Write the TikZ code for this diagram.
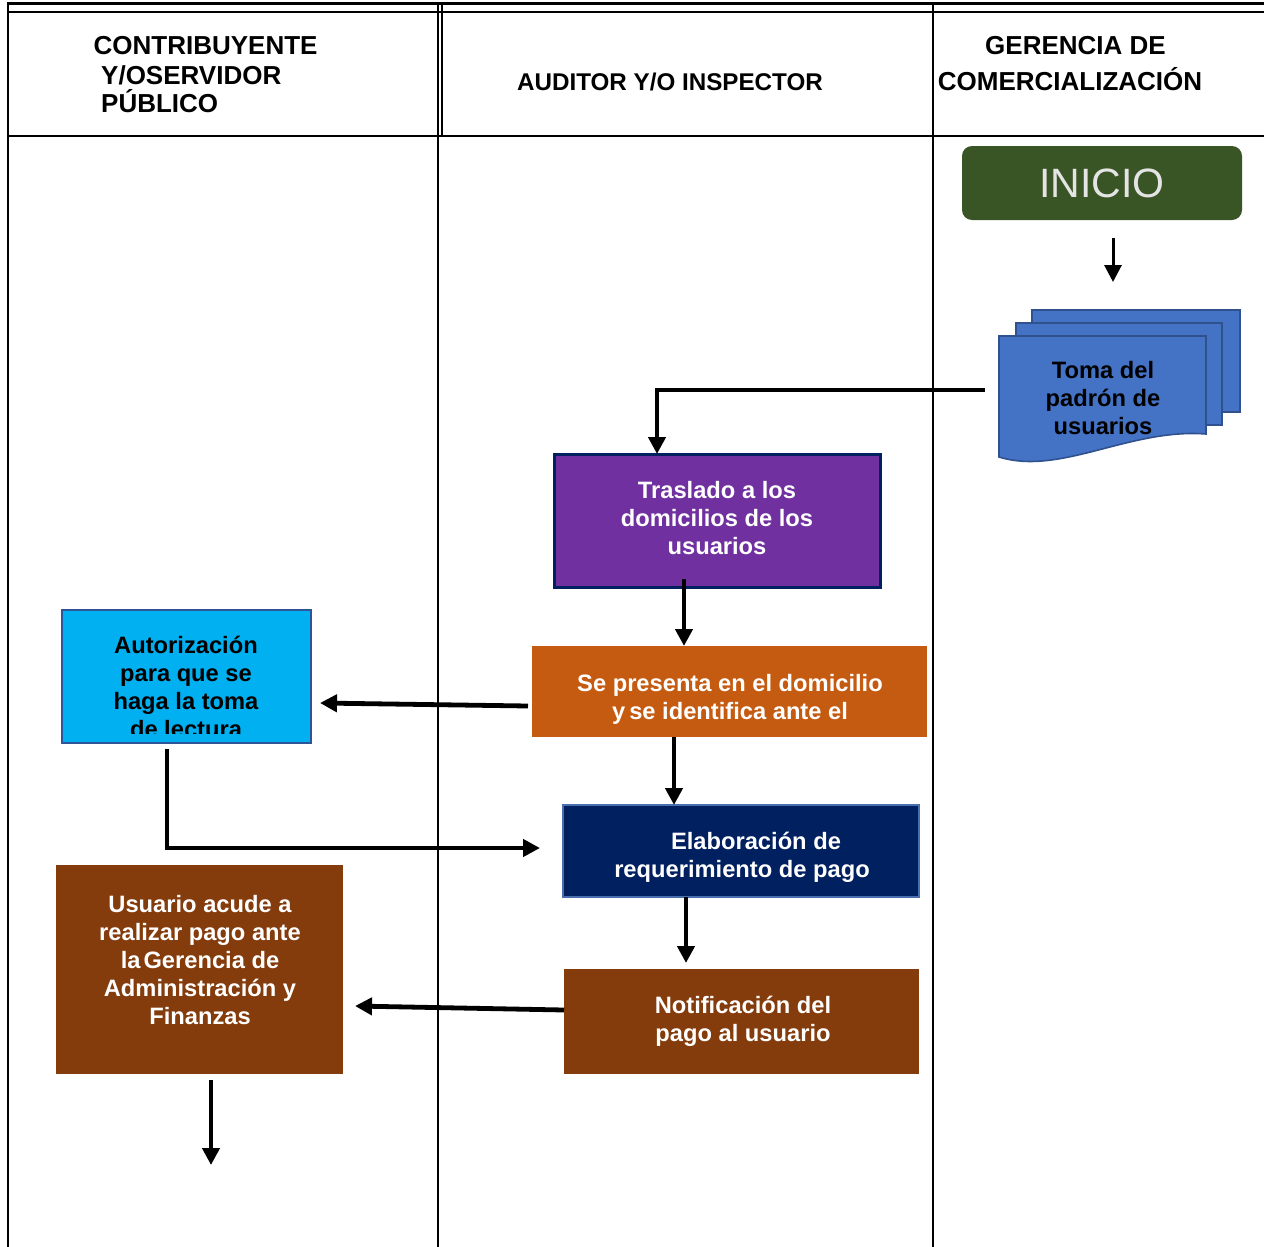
\documentclass[tikz,border=0pt]{standalone}
\usepackage{fontspec}
\setmainfont{Liberation Sans}
\usetikzlibrary{arrows.meta}

\definecolor{inicioGreen}{HTML}{3A5525}
\definecolor{inicioText}{HTML}{E4E4E4}
\definecolor{docBlue}{HTML}{4472C4}
\definecolor{docEdge}{HTML}{2F528F}
\definecolor{purpleBox}{HTML}{7030A0}
\definecolor{navy}{HTML}{002060}
\definecolor{orangeBox}{HTML}{C55A11}
\definecolor{cyanBox}{HTML}{00B0F0}
\definecolor{cyanEdge}{HTML}{2F5597}
\definecolor{elabEdge}{HTML}{4A6FAE}
\definecolor{brownBox}{HTML}{843C0C}

\begin{document}
\begin{tikzpicture}[x=1pt,y=-1pt,
  tbl/.style={line width=2.4pt,black},
  hdr/.style={font=\fontsize{26}{29}\selectfont\bfseries,inner sep=0pt},
  box/.style={rectangle,inner sep=0pt,outer sep=0pt},
  txt/.style={align=center,inner sep=0pt,font=\fontsize{23.7}{28}\selectfont\bfseries,text=white},
  conn/.style={line width=4.8pt,-{Triangle[width=17pt,length=17pt]}}]

\useasboundingbox (0,0) rectangle (1264,1247);

% ---- swimlane table ----
\draw[tbl] (7,3.5) -- (1264,3.5);
\draw[tbl] (7,12) -- (1264,12);
\draw[tbl] (7,136) -- (1264,136);
\draw[line width=2.2pt] (8,2.3) -- (8,1247);
\draw[line width=2.2pt] (438,2.3) -- (438,1247);
\draw[line width=2.2pt] (442,2.3) -- (442,136);
\draw[line width=2.2pt] (933,2.3) -- (933,1247);

% ---- lane headers ----
\node[hdr,anchor=base west] (hA1) at (93.5,54.3) {CONTRIBUYENTE};
\node[hdr,anchor=base west] (hA2) at (101,84.3) {Y/OSERVIDOR};
\node[hdr,anchor=base west] (hA3) at (101,113) {PÚBLICO};
\node[hdr,font=\fontsize{24.2}{29}\selectfont\bfseries,anchor=base] (hB) at (670,90.7) {AUDITOR Y/O INSPECTOR};
\node[hdr,anchor=base] (hC1) at (1075.5,55) {GERENCIA DE};
\node[hdr,anchor=base] (hC2) at (1070,90) {COMERCIALIZACIÓN};

% ---- start ----
\node[box,fill=inicioGreen,rounded corners=10pt,minimum width=280pt,minimum height=74pt,
      text=inicioText,font=\fontsize{41}{45}\selectfont] (inicio) at (1102,183) {INICIO};

% ---- stacked documents ----
\filldraw[fill=docBlue,draw=docEdge,line width=1.6pt] (1032,310) rectangle (1240,412);
\filldraw[fill=docBlue,draw=docEdge,line width=1.6pt] (1016,323) rectangle (1222,425);
\filldraw[fill=docBlue,draw=docEdge,line width=1.6pt]
  (999,336) -- (1206,336) -- (1206,434)
  .. controls (1130,428) and (1060,476) .. (999,457) -- cycle;
\node[box,minimum width=207pt,minimum height=122pt] (toma) at (1102.5,397) {};
\node[txt,text=black] (tomaT) at (1103,398.5) {Toma del\\padrón de\\usuarios};

% ---- process boxes ----
\node[box,fill=purpleBox,draw=navy,line width=3pt,minimum width=326pt,minimum height=133pt] (tras) at (717,520.5) {};
\node[txt] (trasT) at (717,518) {Traslado a los\\domicilios de los\\usuarios};

\node[box,fill=orangeBox,minimum width=395pt,minimum height=91pt] (sepres) at (729.5,691.5) {};
\node[txt] (sepresT) at (730,699.5) {Se presenta en el domicilio\\y\hspace{4pt}se identifica ante el};

\node[box,fill=cyanBox,draw=cyanEdge,line width=2pt,minimum width=249pt,minimum height=133pt] (auth) at (186.5,676.5) {};
\begin{scope}
  \clip (63,611) rectangle (310,733);
  \node[txt,text=black] (authT) at (186,687) {Autorización\\para que se\\haga la toma\\de lectura};
\end{scope}

\node[box,fill=navy,draw=elabEdge,line width=2pt,minimum width=356pt,minimum height=92pt] (elab) at (741,851) {};
\node[txt] (elabT) at (742,857.5) {\hspace*{28pt}Elaboración de\\requerimiento de pago};

\node[box,fill=brownBox,minimum width=355pt,minimum height=105pt] (notif) at (741.5,1021.5) {};
\node[txt] (notifT) at (743,1021) {Notificación del\\pago al usuario};

\node[box,fill=brownBox,minimum width=287pt,minimum height=209pt] (usu) at (199.5,969.5) {};
\node[txt] (usuT) at (200,960) {Usuario acude a\\realizar pago ante\\la\hspace{3pt}Gerencia de\\Administración y\\Finanzas};

% ---- connectors ----
\draw[conn,line width=3pt] ([xshift=11pt,yshift=-18pt]inicio.south) -- ([xshift=10.5pt,yshift=54pt]toma.north);
\draw[conn] ([xshift=-14pt,yshift=7pt]toma.west) -| ([xshift=-60pt]tras.north);
\draw[conn] ([xshift=-33pt,yshift=8pt]tras.south) -- ([xshift=-45.5pt]sepres.north);
\draw[conn] ([xshift=-4pt,yshift=-14.5pt]sepres.west) -- ([xshift=9pt,yshift=-26.5pt]auth.east);
\draw[conn] ([xshift=-55.5pt]sepres.south) -- ([xshift=-67pt]elab.north);
\draw[conn] ([xshift=-19.5pt,yshift=-6pt]auth.south) |- ([xshift=-23pt,yshift=3pt]elab.west);
\draw[conn] ([xshift=-55pt]elab.south) -- ([xshift=-55.5pt,yshift=6pt]notif.north);
\draw[conn] ([yshift=11.5pt]notif.west) -- ([xshift=12pt,yshift=-36.5pt]usu.east);
\coordinate (fin) at (211,1165);
\draw[conn] ([xshift=11.5pt,yshift=-6pt]usu.south) -- (fin);

\end{tikzpicture}
\end{document}
